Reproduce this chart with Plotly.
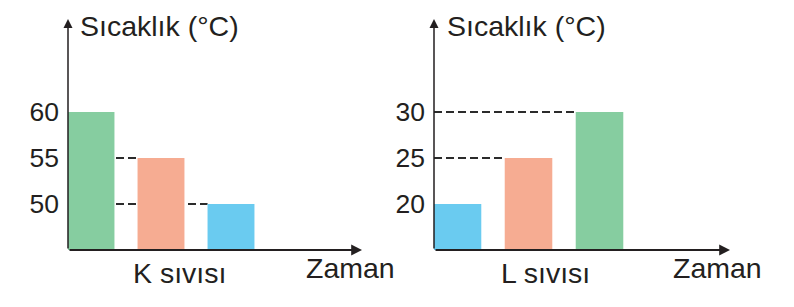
import plotly.graph_objects as go

# ---- data ----
k_times = ["t1", "t2", "t3"]
k_temps = [60, 55, 50]
l_times = ["t1", "t2", "t3"]
l_temps = [20, 25, 30]
k_ticks = [50, 55, 60]
l_ticks = [20, 25, 30]
k_colors = ["#86cda0", "#f6ac92", "#6acbf0"]
l_colors = ["#6acbf0", "#f6ac92", "#86cda0"]
y_title = "Sıcaklık (°C)"
x_title = "Zaman"
k_label = "K sıvısı"
l_label = "L sıvısı"

W, H = 794, 307
FONT = "Liberation Sans, Arial, Helvetica, sans-serif"
INK = "#231f20"
BAR_W = 0.67

fig = go.Figure()

fig.add_trace(go.Bar(x=k_times, y=[v - 45 for v in k_temps], base=45,
                     marker=dict(color=k_colors, line=dict(width=0)),
                     width=BAR_W, xaxis="x", yaxis="y", showlegend=False))
fig.add_trace(go.Bar(x=l_times, y=[v - 15 for v in l_temps], base=15,
                     marker=dict(color=l_colors, line=dict(width=0)),
                     width=BAR_W, xaxis="x2", yaxis="y2", showlegend=False))

# dashed guide lines from the y axis to the left edge of each later bar
shapes = []
for xa, ya, x0, temps in (("x", "y", -0.3286, k_temps), ("x2", "y2", -0.331, l_temps)):
    for i, v in enumerate(temps):
        if i > 0:
            shapes.append(dict(type="line", xref=xa, yref=ya, x0=x0,
                               x1=i - BAR_W / 2, y0=v, y1=v, layer="below",
                               line=dict(color="#2b2b2b", width=1.8,
                                         dash="8px,4px")))

px_per_unit = 46 / 5.0
y_bot, y_top = 250, 19
span = (y_bot - y_top) / px_per_unit

axis_common = dict(showgrid=False, zeroline=False, showline=False)
fig.update_layout(
    width=W, height=H,
    margin=dict(l=0, r=0, t=0, b=0),
    paper_bgcolor="white", plot_bgcolor="rgba(0,0,0,0)",
    font=dict(family=FONT, color=INK),
    xaxis=dict(domain=[68 / W, 362 / W], range=[-0.3286, -0.3286 + 294 / 70],
               type="category", showticklabels=False, ticks="", **axis_common),
    yaxis=dict(domain=[1 - y_bot / H, 1 - y_top / H], range=[45, 45 + span],
               tickvals=k_ticks, ticktext=[str(t) for t in k_ticks], ticks="",
               tickfont=dict(size=26.5, color=INK, family=FONT),
               ticklabelstandoff=8, **axis_common),
    xaxis2=dict(domain=[434 / W, 730 / W], range=[-0.331, -0.331 + 296 / 71],
                type="category", showticklabels=False, ticks="", anchor="y2",
                **axis_common),
    yaxis2=dict(domain=[1 - y_bot / H, 1 - y_top / H], range=[15, 15 + span],
                tickvals=l_ticks, ticktext=[str(t) for t in l_ticks], ticks="",
                tickfont=dict(size=26.5, color=INK, family=FONT),
                ticklabelstandoff=8, anchor="x2", **axis_common),
    shapes=shapes,
)

ann = []
for xa, ya in (("x", "y"), ("x2", "y2")):
    # y axis arrow
    ann.append(dict(xref=f"{xa} domain", yref=f"{ya} domain",
                    axref=f"{xa} domain", ayref=f"{ya} domain",
                    x=0, y=1, ax=0, ay=0, text="", showarrow=True,
                    arrowhead=2, arrowsize=1.2, arrowwidth=1.5, arrowcolor=INK,
                    standoff=0, startstandoff=0))
    # x axis arrow
    ann.append(dict(xref=f"{xa} domain", yref=f"{ya} domain",
                    axref=f"{xa} domain", ayref=f"{ya} domain",
                    x=1, y=0, ax=0, ay=0, text="", showarrow=True,
                    arrowhead=2, arrowsize=1.2, arrowwidth=1.8, arrowcolor=INK,
                    standoff=0, startstandoff=0))

TF = dict(family=FONT, size=28.5, color=INK)
ann += [
    dict(xref="paper", yref="paper", x=78 / W, y=1 - 26 / H, text=y_title,
         xanchor="left", yanchor="middle", showarrow=False, font=TF),
    dict(xref="paper", yref="paper", x=445 / W, y=1 - 26 / H, text=y_title,
         xanchor="left", yanchor="middle", showarrow=False, font=TF),
    dict(xref="paper", yref="paper", x=179 / W, y=1 - 273 / H, text=k_label,
         xanchor="center", yanchor="middle", showarrow=False, font=TF),
    dict(xref="paper", yref="paper", x=545 / W, y=1 - 273 / H, text=l_label,
         xanchor="center", yanchor="middle", showarrow=False, font=TF),
    dict(xref="paper", yref="paper", x=350 / W, y=1 - 268 / H, text=x_title,
         xanchor="center", yanchor="middle", showarrow=False, font=TF),
    dict(xref="paper", yref="paper", x=717 / W, y=1 - 268 / H, text=x_title,
         xanchor="center", yanchor="middle", showarrow=False, font=TF),
]
fig.update_layout(annotations=ann)

fig.write_html("out.html")
